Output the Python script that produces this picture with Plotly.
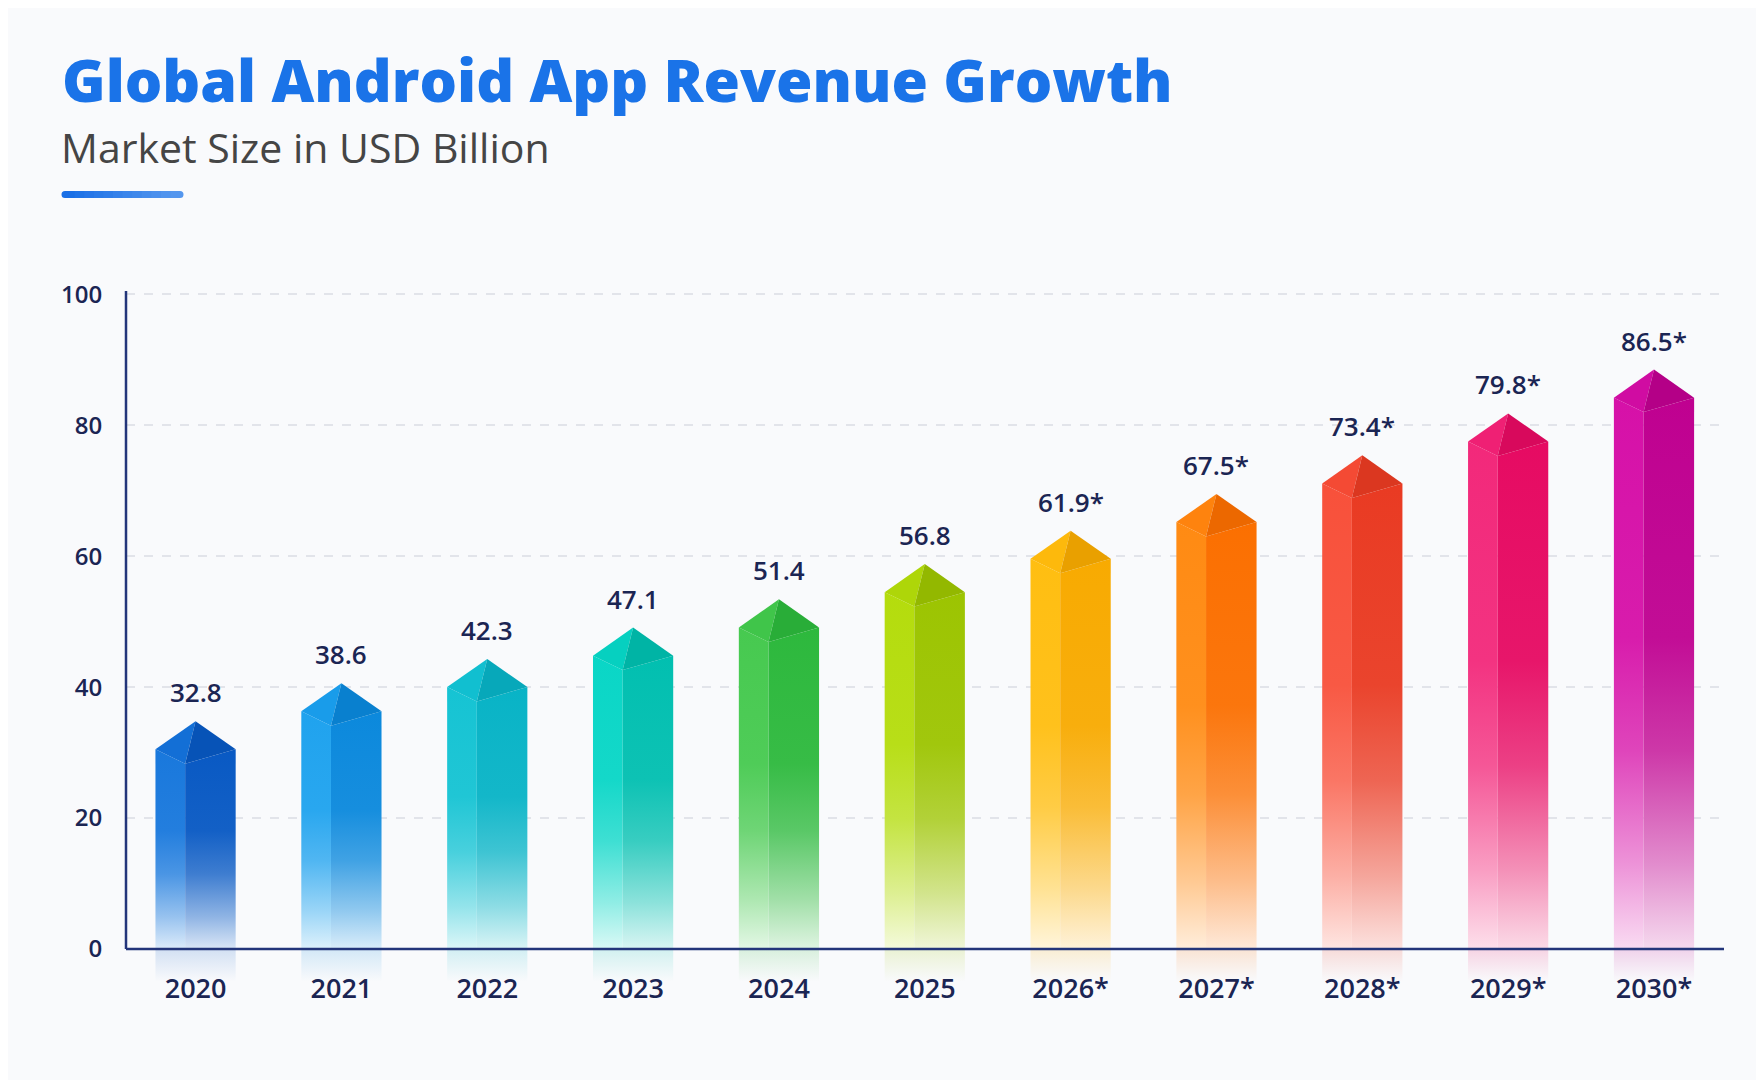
"""
Global Android app revenue growth - 3D-ish prism bars
"""
import plotly.graph_objects as go

years = ["2020", "2021", "2022", "2023", "2024", "2025",
         "2026*", "2027*", "2028*", "2029*", "2030*"]
revenue = [32.8, 38.6, 42.3, 47.1, 51.4, 56.8, 61.9, 67.5, 73.4, 79.8, 86.5]
value_labels = ["32.8", "38.6", "42.3", "47.1", "51.4", "56.8",
                "61.9*", "67.5*", "73.4*", "79.8*", "86.5*"]
y_ticks = [0, 20, 40, 60, 80, 100]

# right (shaded) face / left (lit) face colours per bar
dark_cols = ["#0758c3", "#0a88dc", "#07b3c6", "#00bfb0", "#2cb83c", "#9cc400",
             "#f8aa00", "#fb6f00", "#e93a22", "#e60a62", "#bf0090"]
light_cols = ["#1777dc", "#1ea2ee", "#14c3d3", "#08d6c6", "#46c94f", "#b4dc0c",
              "#ffbe10", "#ff8a12", "#f8503a", "#f2287a", "#d610a8"]

NAVY = "#1b2553"
AXIS = "#23357a"
BG = "#f9fafc"


def rgb(h):
    h = h.lstrip("#")
    return tuple(int(h[k:k + 2], 16) for k in (0, 2, 4))


def mix(h, t, other="#ffffff"):
    a, b = rgb(h), rgb(other)
    c = [round(a[k] * (1 - t) + b[k] * t) for k in range(3)]
    return "rgb(%d,%d,%d)" % tuple(c)


def rgba(h, a):
    return "rgba(%d,%d,%d,%s)" % (*rgb(h), a)


hw = 0.275       # half bar width in category units
split = 0.37     # where the front edge sits across the bar
roof_sh, roof_pk, roof_fr = -2.3, 2.0, -4.5   # roof offsets from value

fig = go.Figure()


def face(xs, ys, col, top):
    fig.add_trace(go.Scatter(
        x=xs, y=ys, mode="lines", fill="toself", line=dict(width=0),
        fillgradient=dict(
            type="vertical", start=0, stop=top,
            colorscale=[[0, mix(col, 0.85)], [0.15, mix(col, 0.55)],
                        [0.35, mix(col, 0.22)], [0.55, mix(col, 0.05)],
                        [1, mix(col, 0)]],
        ),
        hoverinfo="skip", showlegend=False,
    ))


for i, v in enumerate(revenue):
    xl, xr = i - hw, i + hw
    xd = xl + split * 2 * hw
    ys, yp, yf = v + roof_sh, v + roof_pk, v + roof_fr
    dk, lt = dark_cols[i], light_cols[i]

    # faint reflection under the axis
    fig.add_trace(go.Scatter(
        x=[xl, xr, xr, xl, xl], y=[0, 0, -5, -5, 0], mode="lines",
        fill="toself", line=dict(width=0),
        fillgradient=dict(type="vertical", start=-5, stop=0,
                          colorscale=[[0, rgba(dk, 0)], [1, rgba(dk, 0.16)]]),
        hoverinfo="skip", showlegend=False,
    ))
    face([xl, xl, xd, xd, xl], [0, ys, yf, 0, 0], lt, v)
    face([xd, xd, xr, xr, xd], [0, yf, ys, 0, 0], dk, v)
    # roof
    fig.add_trace(go.Scatter(
        x=[xl, i, xd, xl], y=[ys, yp, yf, ys], mode="lines", fill="toself",
        fillcolor=mix(lt, 0.25, dk), line=dict(width=0),
        hoverinfo="skip", showlegend=False,
    ))
    fig.add_trace(go.Scatter(
        x=[i, xr, xd, i], y=[yp, ys, yf, yp], mode="lines", fill="toself",
        fillcolor=mix(dk, 0.06, "#000000"), line=dict(width=0),
        hoverinfo="skip", showlegend=False,
    ))
    fig.add_annotation(
        x=i, y=yp, text=value_labels[i], showarrow=False, yanchor="bottom",
        yshift=9, font=dict(family="Open Sans", size=26, color=NAVY, weight=600),
    )

# axis lines
fig.add_shape(type="line", xref="paper", yref="y", x0=0, x1=0, y0=0, y1=100.5,
              line=dict(color=AXIS, width=2.5))
fig.add_shape(type="line", xref="paper", yref="y", x0=0, x1=1, y0=0, y1=0,
              line=dict(color=AXIS, width=2.5))

# page is drawn with an 8px body margin, so lay out 8px up/left
OFF = 8
L = 126 - OFF
R = 1724 - OFF
T = 291 - OFF
B = 985 - OFF
W = R - L
H = B - T


def px_x(p):
    return (p - OFF - L) / W


def px_y(p):
    return (B - (p - OFF)) / H


fig.add_annotation(
    xref="paper", yref="paper", x=px_x(60), y=px_y(79), xanchor="left",
    yanchor="middle", showarrow=False,
    text="Global Android App Revenue Growth",
    font=dict(family="Open Sans", size=59, color="#1a73e8", weight=800),
)
fig.add_annotation(
    xref="paper", yref="paper", x=px_x(59), y=px_y(147), xanchor="left",
    yanchor="middle", showarrow=False, text="Market Size in USD Billion",
    font=dict(family="Open Sans", size=41, color="#454545"),
)
# gradient underline with rounded ends
n = 12
seg = (180 - 65) / n
for k in range(n):
    x0 = 65 + k * seg
    x1 = x0 + seg + 1.5
    fig.add_shape(type="rect", xref="paper", yref="paper",
                  x0=px_x(x0), x1=px_x(min(x1, 180)), y0=px_y(198), y1=px_y(191),
                  fillcolor=mix("#1a6fe6", 0.5 * k / (n - 1), "#8fbef7"),
                  line=dict(width=0), layer="above")
for cx, col in ((65, mix("#1a6fe6", 0)), (180, mix("#1a6fe6", 0.5, "#8fbef7"))):
    fig.add_shape(type="circle", xref="paper", yref="paper",
                  xsizemode="pixel", ysizemode="pixel",
                  xanchor=px_x(cx), yanchor=px_y(194.5),
                  x0=-3.5, x1=3.5, y0=-3.5, y1=3.5,
                  fillcolor=col, line=dict(width=0), layer="above")

fig.update_layout(
    width=1764, height=1080,
    paper_bgcolor=BG, plot_bgcolor=BG,
    margin=dict(l=L, r=1764 - R, t=T, b=1080 - B),
    showlegend=False,
    font=dict(family="Open Sans", color=NAVY),
)
fig.update_xaxes(
    range=[-0.477, 10.48], tickvals=list(range(len(years))), ticktext=years,
    showgrid=False, zeroline=False, showline=False,
    ticks="", ticklabelstandoff=-15,
    tickfont=dict(family="Open Sans", size=27, color=NAVY, weight=600),
)
fig.update_yaxes(
    range=[-5.5, 100.5], tickvals=y_ticks,
    showgrid=True, gridcolor="#e2e4ea", gridwidth=1.5, griddash="dash",
    zeroline=False, showline=False,
    ticks="outside", ticklen=18, tickcolor="rgba(0,0,0,0)",
    tickfont=dict(family="Open Sans", size=24, color=NAVY, weight=600),
)

fig.write_html("out.html")
